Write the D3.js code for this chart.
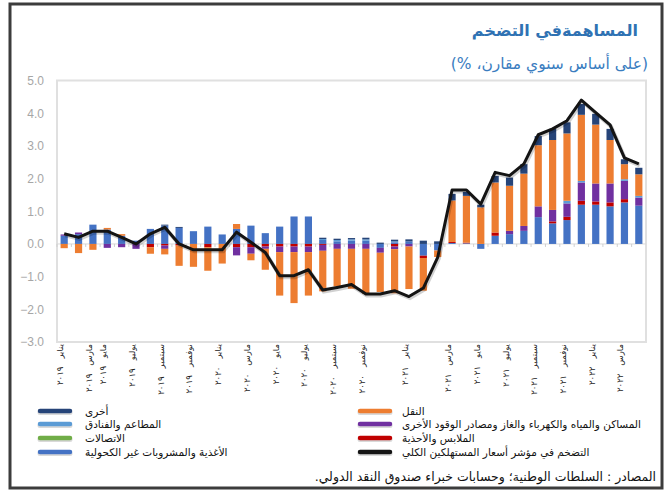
<!DOCTYPE html>
<html>
<head>
<meta charset="utf-8">
<script src="https://cdn.jsdelivr.net/npm/d3@7"></script>
<style>
	html, body { margin: 0; padding: 0; background: #fff; }
	svg { display: block; font-family: "Liberation Sans", "DejaVu Sans", sans-serif; }
</style>
</head>
<body>
<div id="chart"></div>
<script>
// categories (monthly)
var months = ['2019-01', '2019-02', '2019-03', '2019-04', '2019-05', '2019-06', '2019-07', '2019-08', '2019-09', '2019-10', '2019-11', '2019-12',
	'2020-01', '2020-02', '2020-03', '2020-04', '2020-05', '2020-06', '2020-07', '2020-08', '2020-09', '2020-10', '2020-11', '2020-12',
	'2021-01', '2021-02', '2021-03', '2021-04', '2021-05', '2021-06', '2021-07', '2021-08', '2021-09', '2021-10', '2021-11', '2021-12',
	'2022-01', '2022-02', '2022-03', '2022-04', '2022-05'];

// series values (contribution, percentage points)
var food = [0.25, 0.3, 0.59, 0.44, 0.25, 0.1, 0.46, 0.56, 0.49, 0.39, 0.53, 0.29, 0.46, 0.56, 0.33, 0.53, 0.84, 0.84, 0.12, 0.08,
	0.1, 0.1, -0.12, 0.05, 0.08, -0.36, -0.2, 0.03, 0.02, -0.15, 0.25, 0.3, 0.4, 0.82, 0.63, 0.73, 1.2, 1.2, 1.15, 1.27, 1.17];
var clothing = [0, 0, 0, 0, 0, 0, -0.1, -0.05, -0.05, 0, -0.1, 0, -0.1, -0.1, -0.08, -0.08, -0.08, -0.08, -0.03, 0,
	0, 0, 0, -0.08, 0, -0.07, 0, 0.03, 0.02, 0, 0.1, 0, 0, 0, 0.06, 0.1, 0.12, 0.1, 0.12, 0.1, 0];
var housing = [0.04, 0.05, 0, -0.12, -0.1, -0.15, 0, -0.1, 0, 0, 0, 0, -0.25, -0.2, -0.07, -0.17, -0.17, -0.17, -0.18, -0.15,
	-0.15, -0.15, -0.15, -0.08, -0.08, 0, 0, 0, 0, 0, 0, 0.1, 0.15, 0.33, 0.35, 0.41, 0.56, 0.55, 0.58, 0.56, 0.25];
var restaurants = [0, 0, 0, 0, 0, 0, 0, 0, 0, 0, 0, 0, 0, 0, 0, 0, 0, 0, 0.03, 0.04,
	0.04, 0.04, 0, 0.03, 0, 0, 0, 0, 0, 0, 0, 0, 0, 0, 0, 0.08, 0.05, 0, 0, 0.05, 0.05];
var communications = [0, 0, 0, 0, 0, 0, 0, 0, 0, 0, 0, 0, 0, 0, 0, 0, 0, 0, 0, 0,
	0, 0, 0, 0, 0, 0, 0, 0, 0, 0, 0, 0, 0, 0, 0, 0, 0, 0, 0, 0, 0];
var transport = [-0.13, -0.28, -0.18, 0.05, 0.05, 0, -0.2, -0.17, -0.62, -0.7, -0.72, -0.6, 0.15, -0.2, -0.64, -1.33, -1.56, -1.33, -1.24, -1.15,
	-1.22, -1.38, -1.2, -1.35, -1.3, -1.0, -0.2, 1.27, 1.43, 1.12, 1.53, 1.38, 1.6, 1.87, 2.14, 2.06, 2.02, 1.8, 1.33, 0.46, 0.66];
var other = [0, 0, 0, 0, 0, 0, 0, 0.03, 0.03, 0, 0, 0, 0, 0, 0, 0, 0, 0, 0.04, 0.04,
	0.04, 0.05, 0.04, 0.05, 0.06, 0.1, 0.08, 0.2, 0.12, 0.08, 0.2, 0.25, 0.29, 0.28, 0.34, 0.34, 0.33, 0.33, 0.34, 0.15, 0.2];
var cpi = [0.31, 0.2, 0.39, 0.39, 0.2, 0.0, 0.31, 0.51, 0.0, -0.18, -0.18, -0.18, 0.36, 0.05, -0.26, -0.97, -0.97, -0.79, -1.41, -1.33,
	-1.24, -1.53, -1.53, -1.43, -1.61, -1.35, -0.41, 1.65, 1.65, 1.22, 2.19, 2.09, 2.45, 3.34, 3.52, 3.77, 4.4, 4.02, 3.64, 2.63, 2.45];

// tick labels
var tickLabels = ['يناير ٢٠١٩', 'مارس ٢٠١٩', 'مايو ٢٠١٩', 'يوليو ٢٠١٩', 'سبتمبر ٢٠١٩', 'نوفمبر ٢٠١٩', 'يناير ٢٠٢٠', 'مارس ٢٠٢٠', 'مايو ٢٠٢٠', 'يوليو ٢٠٢٠',
	'سبتمبر ٢٠٢٠', 'نوفمبر ٢٠٢٠', 'يناير ٢٠٢١', 'مارس ٢٠٢١', 'مايو ٢٠٢١', 'يوليو ٢٠٢١', 'سبتمبر ٢٠٢١', 'نوفمبر ٢٠٢١', 'يناير ٢٠٢٢', 'مارس ٢٠٢٢'];
var tickMonths = ['2019-01', '2019-03', '2019-04', '2019-06', '2019-08', '2019-10', '2019-12', '2020-02', '2020-04', '2020-06',
	'2020-08', '2020-10', '2021-01', '2021-04', '2021-06', '2021-08', '2021-10', '2021-12', '2022-02', '2022-04'];
var yTicks = [-3, -2, -1, 0, 1, 2, 3, 4, 5];

var seriesKeys = ['food', 'clothing', 'housing', 'restaurants', 'communications', 'transport', 'other'];
var seriesValues = [food, clothing, housing, restaurants, communications, transport, other];
var colors = {
	food: '#4472c4',
	clothing: '#c00000',
	housing: '#7030a0',
	restaurants: '#5b9bd5',
	communications: '#70ad47',
	transport: '#ed7d31',
	other: '#264478',
	cpi: '#141414'
};
var legendLeft = [
	{ key: 'other', label: 'أخرى' },
	{ key: 'restaurants', label: 'المطاعم والفنادق' },
	{ key: 'communications', label: 'الاتصالات' },
	{ key: 'food', label: 'الأغذية والمشروبات غير الكحولية' }
];
var legendRight = [
	{ key: 'transport', label: 'النقل' },
	{ key: 'housing', label: 'المساكن والمياه والكهرباء والغاز ومصادر الوقود الأخرى' },
	{ key: 'clothing', label: 'الملابس والأحذية' },
	{ key: 'cpi', label: 'التضخم في مؤشر أسعار المستهلكين الكلي' }
];

initChart();

function initChart() {
	var width = 669;
	var height = 491;
	var plot = { left: 57, right: 646, top: 80.5, bottom: 342 };

	var table = months.map(function(m, i) {
		var row = { month: m, cpi: cpi[i] };
		seriesKeys.forEach(function(k, j) {
			row[k] = seriesValues[j][i];
		});
		return row;
	});

	var svg = d3.select('#chart')
		.append('svg')
		.attr('width', width)
		.attr('height', height);

	svg.append('rect')
		.attr('x', 10)
		.attr('y', 4)
		.attr('width', 652)
		.attr('height', 484)
		.attr('fill', '#fff')
		.attr('stroke', '#3c3c3c')
		.attr('stroke-width', 3);

	// titles
	svg.append('text')
		.attr('x', 638)
		.attr('y', 36)
		.attr('direction', 'rtl')
		.attr('text-anchor', 'start')
		.attr('fill', '#2f72b3')
		.attr('font-family', 'DejaVu Sans, sans-serif')
		.attr('font-weight', 'bold')
		.attr('font-size', 16)
		.text('المساهمةفي التضخم');

	svg.append('text')
		.attr('x', 648)
		.attr('y', 69)
		.attr('direction', 'rtl')
		.attr('text-anchor', 'start')
		.attr('fill', '#3a7dbf')
		.attr('font-family', 'DejaVu Sans, sans-serif')
		.attr('font-size', 15.5)
		.text('(على أساس سنوي مقارن، %)');

	var xScale = d3.scaleBand()
		.domain(months)
		.range([plot.left, plot.right])
		.paddingInner(0.5)
		.paddingOuter(0.25);

	var yScale = d3.scaleLinear()
		.domain([-3, 5])
		.range([plot.bottom, plot.top]);

	// plot frame
	svg.append('rect')
		.attr('x', plot.left)
		.attr('y', plot.top)
		.attr('width', plot.right - plot.left)
		.attr('height', plot.bottom - plot.top)
		.attr('fill', 'none')
		.attr('stroke', '#e0e0e0')
		.attr('stroke-width', 2);

	// y axis labels
	var yAxis = svg.append('g')
		.attr('class', 'axis y-axis')
		.attr('transform', 'translate(' + 44 + ',0)')
		.call(d3.axisLeft(yScale).tickValues(yTicks).tickFormat(d3.format('.1f')).tickSize(0).tickPadding(0));

	yAxis.select('.domain').remove();
	yAxis.selectAll('text')
		.attr('fill', '#a6a6a6')
		.attr('font-size', 12)
		.attr('font-family', 'Liberation Sans, sans-serif');

	// zero axis
	var zeroAxis = svg.append('g')
		.attr('transform', 'translate(0,' + yScale(0) + ')');

	zeroAxis.append('line')
		.attr('x1', plot.left)
		.attr('x2', plot.right)
		.attr('stroke', '#d9d9d9')
		.attr('stroke-width', 1);

	zeroAxis.selectAll('.minor')
		.data(months)
		.enter()
		.append('line')
		.attr('x1', function(d) { return xScale(d) - xScale.step() * 0.25; })
		.attr('x2', function(d) { return xScale(d) - xScale.step() * 0.25; })
		.attr('y1', 0)
		.attr('y2', 3)
		.attr('stroke', '#cfcfcf');

	// stacked bars
	var stack = d3.stack()
		.keys(seriesKeys)
		.offset(d3.stackOffsetDiverging);

	var layer = svg.selectAll('.layer')
		.data(stack(table))
		.enter()
		.append('g')
		.attr('class', 'layer')
		.attr('fill', function(d) { return colors[d.key]; });

	layer.selectAll('rect')
		.data(function(d) { return d; })
		.enter()
		.append('rect')
		.attr('x', function(d) { return xScale(d.data.month); })
		.attr('width', xScale.bandwidth())
		.attr('y', function(d) { return yScale(Math.max(d[0], d[1])); })
		.attr('height', function(d) { return Math.abs(yScale(d[0]) - yScale(d[1])); });

	// cpi line
	var line = d3.line()
		.x(function(d) { return xScale(d.month) + xScale.bandwidth() / 2; })
		.y(function(d) { return yScale(d.cpi); });

	svg.append('path')
		.datum(table)
		.attr('fill', 'none')
		.attr('stroke', 'rgba(0,0,0,0.18)')
		.attr('stroke-width', 4)
		.attr('transform', 'translate(1,1.5)')
		.attr('d', line);

	svg.append('path')
		.datum(table)
		.attr('fill', 'none')
		.attr('stroke', colors.cpi)
		.attr('stroke-width', 3)
		.attr('stroke-linejoin', 'round')
		.attr('d', line);

	// x labels (month on top, year below)
	svg.append('g')
		.attr('class', 'axis x-axis')
		.selectAll('text')
		.data(tickLabels)
		.enter()
		.append('text')
		.attr('transform', function(d, i) {
			var x = xScale(tickMonths[i]) + xScale.bandwidth() / 2 - 1;
			return 'translate(' + x + ',' + 344 + ') rotate(-90)';
		})
		.attr('text-anchor', 'end')
		.attr('font-family', 'DejaVu Sans, sans-serif')
		.attr('font-size', 8.5)
		.attr('fill', '#222')
		.text(function(d) { return d.replace(' ', '\u00a0\u00a0\u00a0'); });

	// legend
	drawLegend(legendLeft, 38, 85);
	drawLegend(legendRight, 358, 402);

	function drawLegend(items, swatchX, textX) {
		var g = svg.append('g').attr('class', 'legend');
		var rowY = [411, 424, 438, 452];

		var row = g.selectAll('g')
			.data(items)
			.enter()
			.append('g')
			.attr('transform', function(d, i) { return 'translate(0,' + rowY[i] + ')'; });

		row.append('line')
			.attr('x1', swatchX + 2)
			.attr('x2', swatchX + 32)
			.attr('y1', 1.5)
			.attr('y2', 1.5)
			.attr('stroke', 'rgba(0,0,0,0.15)')
			.attr('stroke-width', 5)
			.attr('stroke-linecap', 'round');

		row.append('line')
			.attr('x1', swatchX + 2)
			.attr('x2', swatchX + 32)
			.attr('stroke', function(d) { return colors[d.key]; })
			.attr('stroke-width', 4.5)
			.attr('stroke-linecap', 'round');

		row.append('text')
			.attr('x', textX)
			.attr('y', 4)
			.attr('text-anchor', 'start')
			.attr('font-family', 'DejaVu Sans, sans-serif')
			.attr('font-size', 10.5)
			.attr('fill', '#111')
			.text(function(d) { return d.label; });
	}

	// source
	svg.append('text')
		.attr('x', 656)
		.attr('y', 481)
		.attr('direction', 'rtl')
		.attr('text-anchor', 'start')
		.attr('font-family', 'DejaVu Sans, sans-serif')
		.attr('font-size', 12.5)
		.attr('fill', '#111')
		.text('المصادر : السلطات الوطنية؛ وحسابات خبراء صندوق النقد الدولي.');
}
</script>
</body>
</html>
